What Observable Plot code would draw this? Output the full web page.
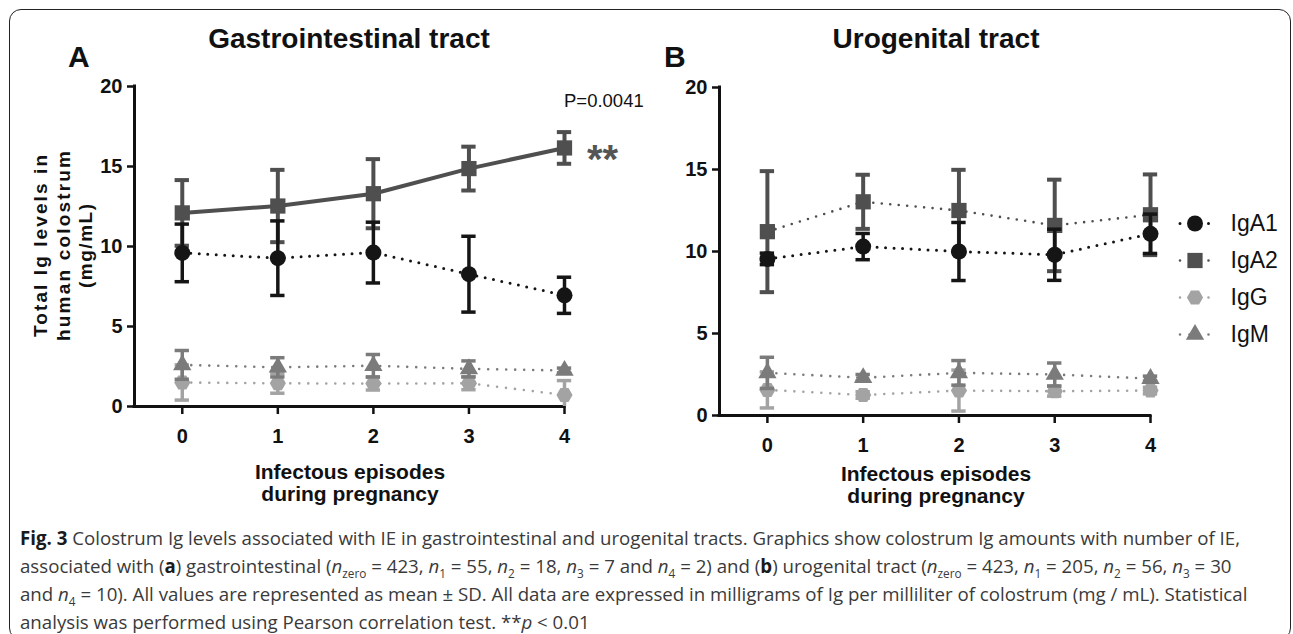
<!DOCTYPE html>
<html><head><meta charset="utf-8">
<script src="https://cdn.jsdelivr.net/npm/d3@7"></script>
<script src="https://cdn.jsdelivr.net/npm/@observablehq/plot@0.6"></script>
<style>
body{margin:0;background:#fff;}
#root{position:relative;width:1293px;height:634px;overflow:hidden;font-family:"Liberation Sans",Arial,sans-serif;background:#fff;}
.abs{position:absolute;}
.cap{position:absolute;left:20px;white-space:nowrap;font-family:"Open Sans",sans-serif;font-size:19px;line-height:19px;color:#3a3a3a;transform-origin:0 50%;}
.cap b{color:#1a1a1a;}
.cap sub{font-size:12px;line-height:0;}
</style></head><body><div id="root"></div>
<script>
// ---------- data ----------
const episodes = [0, 1, 2, 3, 4];
const seriesNames = ["IgA1", "IgA2", "IgG", "IgM"];
const yTicks = [0, 5, 10, 15, 20];

// Gastrointestinal tract (panel A): mean and SD
const giIgA1Mean = [9.6, 9.27, 9.62, 8.27, 6.95];
const giIgA1SD   = [1.8, 2.33, 1.9, 2.37, 1.13];
const giIgA2Mean = [12.1, 12.53, 13.3, 14.87, 16.16];
const giIgA2SD   = [2.05, 2.26, 2.16, 1.37, 0.99];
const giIgGMean  = [1.5, 1.45, 1.43, 1.45, 0.72];
const giIgGSD    = [1.1, 0.62, 0.4, 0.4, 0.9];
const giIgMMean  = [2.6, 2.45, 2.55, 2.35, 2.25];
const giIgMSD    = [0.9, 0.6, 0.7, 0.5, 0.15];

// Urogenital tract (panel B): mean and SD
const ugIgA1Mean = [9.55, 10.3, 10.0, 9.8, 11.08];
const ugIgA1SD   = [0.35, 0.8, 1.77, 1.56, 1.2];
const ugIgA2Mean = [11.21, 13.03, 12.5, 11.59, 12.24];
const ugIgA2SD   = [3.69, 1.65, 2.48, 2.79, 2.46];
const ugIgGMean  = [1.56, 1.25, 1.52, 1.48, 1.52];
const ugIgGSD    = [1.1, 0.2, 1.25, 0.3, 0.2];
const ugIgMMean  = [2.6, 2.3, 2.6, 2.5, 2.25];
const ugIgMSD    = [0.95, 0.2, 0.75, 0.7, 0.15];

const panelTitles = ["Gastrointestinal tract", "Urogenital tract"];
const panelLetters = ["A", "B"];
const yTitle = ["Total Ig levels in", "human colostrum", "(mg/mL)"];
const xTitle = ["Infectous episodes", "during pregnancy"];
const pValueText = "P=0.0041";
const sigText = "**";

// ---------- styles ----------
const style = {
  IgA1: {color: "#151515", symbol: "circle",   r: 8,   rotate: 0,  lw: 3,   dash: "0 8.5", ebw: 3.5},
  IgA2: {color: "#4f4f4f", symbol: "square",   r: 8.6, rotate: 0,  lw: 2.6, dash: "0 8.5", ebw: 4},
  IgG:  {color: "#a3a3a3", symbol: "hexagon",  r: 7,   rotate: 90, lw: 2.6, dash: "0 9",   ebw: 3.5},
  IgM:  {color: "#7b7b7b", symbol: "triangle", r: 6.8, rotate: 0,  lw: 2.6, dash: "0 9",   ebw: 3.5}
};
const drawOrder = ["IgG", "IgM", "IgA2", "IgA1"];
const capHalf = 0.075;

function rowsOf(name, means, sds) {
  return episodes.map((x, i) => ({series: name, x, mean: means[i], lo: Math.max(0, means[i] - sds[i]), hi: means[i] + sds[i]}));
}
const gi = {
  IgA1: rowsOf("IgA1", giIgA1Mean, giIgA1SD),
  IgA2: rowsOf("IgA2", giIgA2Mean, giIgA2SD),
  IgG:  rowsOf("IgG",  giIgGMean,  giIgGSD),
  IgM:  rowsOf("IgM",  giIgMMean,  giIgMSD)
};
const ug = {
  IgA1: rowsOf("IgA1", ugIgA1Mean, ugIgA1SD),
  IgA2: rowsOf("IgA2", ugIgA2Mean, ugIgA2SD),
  IgG:  rowsOf("IgG",  ugIgGMean,  ugIgGSD),
  IgM:  rowsOf("IgM",  ugIgMMean,  ugIgMSD)
};

function makePanel(data, cfg) {
  const marks = [
    Plot.axisY({ticks: yTicks, tickFormat: d3.format("d"), tickSize: 7, tickPadding: 5, fontSize: 20, fontWeight: "bold", strokeWidth: 2.5, label: null, anchor: "left"}),
    Plot.axisX({ticks: episodes, tickFormat: d3.format("d"), tickSize: 8, tickPadding: 14, fontSize: 20, fontWeight: "bold", strokeWidth: 2.5, label: null, anchor: "bottom"}),
    Plot.ruleX([-0.5], {x: d => d, y1: 0, y2: 20, stroke: "#111", strokeWidth: 3, strokeLinecap: "square"}),
    Plot.ruleY([0], {y: d => d, x1: -0.5, x2: 4, stroke: "#111", strokeWidth: 3, strokeLinecap: "square"})
  ];
  for (const name of drawOrder) {
    const s = style[name];
    const solid = (cfg.solid || []).includes(name);
    const opts = {x: "x", y: "mean", stroke: s.color, strokeWidth: solid ? 4 : s.lw, strokeLinecap: "round"};
    if (!solid) opts.strokeDasharray = s.dash;
    marks.push(Plot.line(data[name], opts));
  }
  for (const name of drawOrder) {
    const s = style[name], d = data[name];
    marks.push(Plot.ruleX(d, {x: "x", y1: "lo", y2: "hi", stroke: s.color, strokeWidth: s.ebw}));
    marks.push(Plot.ruleY(d, {y: "hi", x1: r => r.x - capHalf, x2: r => r.x + capHalf, stroke: s.color, strokeWidth: s.ebw}));
    marks.push(Plot.ruleY(d.filter(r => r.lo > 0), {y: "lo", x1: r => r.x - capHalf, x2: r => r.x + capHalf, stroke: s.color, strokeWidth: s.ebw}));
    marks.push(Plot.dot(d, {x: "x", y: "mean", symbol: s.symbol, r: s.r, fill: s.color, stroke: "none", rotate: s.rotate}));
  }
  return Plot.plot({
    width: cfg.width, height: cfg.height,
    marginLeft: cfg.mL, marginRight: cfg.mR, marginTop: cfg.mT, marginBottom: cfg.mB,
    x: {domain: [-0.5, 4]},
    y: {domain: [0, 20]},
    style: {fontFamily: "'Liberation Sans', Arial, sans-serif", color: "#111", background: "transparent", overflow: "visible"},
    marks
  });
}

const root = document.getElementById("root");

// border
const border = document.createElement("div");
border.className = "abs";
Object.assign(border.style, {left: "9px", top: "9px", width: "1282px", height: "631px", border: "1.5px solid #222", borderRadius: "12px", boxSizing: "border-box"});
root.appendChild(border);

const pA = makePanel(gi, {width: 640, height: 530, mL: 134, mR: 76, mT: 86, mB: 124, solid: ["IgA2"]});
pA.style.position = "absolute"; pA.style.left = "0px"; pA.style.top = "0px";
root.appendChild(pA);

const pB = makePanel(ug, {width: 693, height: 530, mL: 119, mR: 143, mT: 87, mB: 115, solid: []});
pB.style.position = "absolute"; pB.style.left = "600px"; pB.style.top = "0px";
root.appendChild(pB);

// legend
const legMarks = [];
for (const name of seriesNames) {
  const s = style[name];
  legMarks.push(Plot.ruleY([name], {y: d => d, x1: 0, x2: 1, stroke: s.color, strokeWidth: s.lw, strokeDasharray: "0 9.5", strokeLinecap: "round"}));
  legMarks.push(Plot.dot([name], {x: () => 0.5, y: d => d, symbol: s.symbol, r: s.r, fill: s.color, stroke: "none", rotate: s.rotate}));
  legMarks.push(Plot.text([name], {x: () => 1, y: d => d, text: d => d, dx: 21, textAnchor: "start", fontSize: 23, fill: "#111"}));
}
const leg = Plot.plot({
  width: 143, height: 160, margin: 0,
  x: {domain: [0, 1], range: [30, 59], axis: null},
  y: {type: "point", domain: seriesNames, range: [22, 135], padding: 0, axis: null},
  style: {fontFamily: "'Liberation Sans', Arial, sans-serif", color: "#111", background: "transparent", overflow: "visible"},
  marks: legMarks
});
leg.style.position = "absolute"; leg.style.left = "1150px"; leg.style.top = "200px";
root.appendChild(leg);

// annotation overlay
const svg = d3.select(root).append("svg")
  .attr("width", 1293).attr("height", 634)
  .style("position", "absolute").style("left", 0).style("top", 0)
  .style("font-family", "'Liberation Sans', Arial, sans-serif");

const letterX = [68, 664], titleX = [349, 936], xTitleX = [350, 936], xTitleY = [479, 481];
for (let i = 0; i < 2; i++) {
  svg.append("text").attr("x", letterX[i]).attr("y", 67).attr("font-size", 30).attr("font-weight", "bold").attr("fill", "#111").text(panelLetters[i]);
  svg.append("text").attr("x", titleX[i]).attr("y", 48).attr("text-anchor", "middle").attr("font-size", 28).attr("font-weight", "bold").attr("fill", "#111").text(panelTitles[i]);
  xTitle.forEach((t, j) => {
    svg.append("text").attr("x", xTitleX[i]).attr("y", xTitleY[i] + j * 22).attr("text-anchor", "middle").attr("font-size", 21).attr("font-weight", "bold").attr("fill", "#111").text(t);
  });
}
// y title (rotated)
const yg = svg.append("g").attr("transform", "translate(0,246) rotate(-90)");
const yBase = [47, 70, 92], yLen = [182, 190, 84];
yTitle.forEach((t, j) => {
  yg.append("text").attr("x", 0).attr("y", yBase[j]).attr("text-anchor", "middle").attr("font-size", 19).attr("font-weight", "bold").attr("fill", "#111")
    .attr("textLength", yLen[j]).attr("lengthAdjust", "spacing").text(t);
});
svg.append("text").attr("x", 564).attr("y", 107).attr("font-size", 18.5).attr("fill", "#111").text(pValueText);
svg.append("text").attr("x", 587).attr("y", 173).attr("font-size", 40).attr("font-weight", "bold").attr("fill", "#555").text(sigText);

// caption
const capLines = [
  '<b>Fig. 3</b> Colostrum Ig levels associated with IE in gastrointestinal and urogenital tracts. Graphics show colostrum Ig amounts with number of IE,',
  'associated with (<b>a</b>) gastrointestinal (<i>n</i><sub>zero</sub> = 423, <i>n</i><sub>1</sub> = 55, <i>n</i><sub>2</sub> = 18, <i>n</i><sub>3</sub> = 7 and <i>n</i><sub>4</sub> = 2) and (<b>b</b>) urogenital tract (<i>n</i><sub>zero</sub> = 423, <i>n</i><sub>1</sub> = 205, <i>n</i><sub>2</sub> = 56, <i>n</i><sub>3</sub> = 30',
  'and <i>n</i><sub>4</sub> = 10). All values are represented as mean ± SD. All data are expressed in milligrams of Ig per milliliter of colostrum (mg / mL). Statistical',
  'analysis was performed using Pearson correlation test. **<i>p</i> &lt; 0.01'
];
const capBase = [546, 574, 602, 630];
const capEls = capLines.map((h, i) => {
  const el = document.createElement("div");
  el.className = "cap";
  el.innerHTML = h;
  el.style.top = (capBase[i] - 17) + "px";
  root.appendChild(el);
  return el;
});
const k = 1220 / capEls[0].getBoundingClientRect().width;
capEls.forEach(el => el.style.transform = `scaleX(${k})`);
</script>
</body></html>
